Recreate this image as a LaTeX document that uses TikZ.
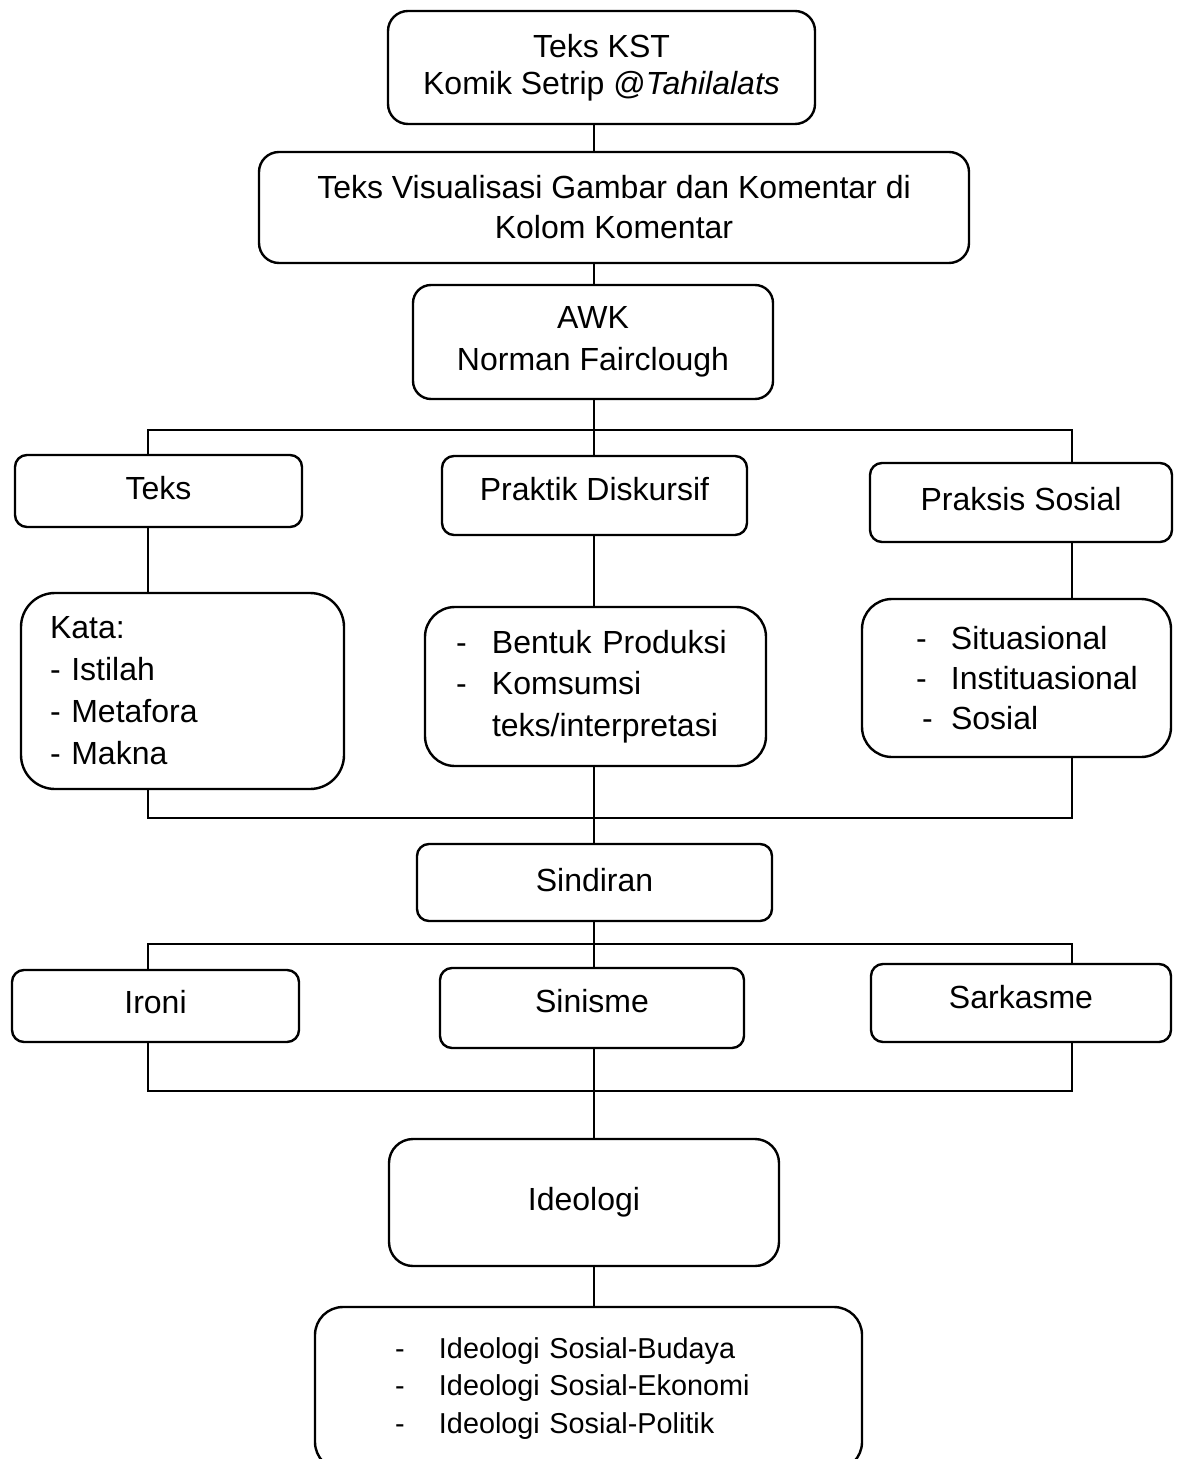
\documentclass[tikz,border=0pt]{standalone}
\usepackage{fontspec}
\setmainfont{Liberation Sans}
\tikzset{
  box/.style={draw, line width=1.2pt, rounded corners=6pt, inner sep=0pt, align=center,
    font=\fontsize{16}{20}\selectfont},
  link/.style={draw, line width=0.6pt},
}
\newcommand{\dashitem}[2]{\makebox[#1][l]{-}#2}

\begin{document}
\begin{tikzpicture}[x=0.5pt, y=-0.5pt]
    \useasboundingbox (0,0) rectangle (1179,1459);
    \clip (0,0) rectangle (1179,1459);

    % 定義欄與橫線的位置
    \coordinate (colL) at (148,0);
    \coordinate (colM) at (594,0);
    \coordinate (colR) at (1072,0);
    \coordinate (bar1) at (0,430);
    \coordinate (bar2) at (0,818);
    \coordinate (bar3) at (0,944);
    \coordinate (bar4) at (0,1091);

    % 上方的框
    \node[box, minimum width=213.5pt, minimum height=56.5pt, rounded corners=10pt,
      font=\fontsize{16}{18.5}\selectfont] (kst) at (601.5,67.5)
      {Teks KST\\Komik Setrip @\textit{Tahilalats}};
    \node[box, minimum width=355pt, minimum height=55.5pt, rounded corners=10pt] (vis) at (614,207.5)
      {Teks Visualisasi Gambar dan Komentar di\\Kolom Komentar};
    \node[box, minimum width=180pt, minimum height=57pt, rounded corners=9pt,
      font=\fontsize{16}{21}\selectfont] (awk) at (593,342)
      {AWK\\Norman Fairclough};

    % 三個層面
    \node[box, minimum width=143.5pt, minimum height=36pt, text depth=3pt] (teks) at (158.5,491) {Teks};
    \node[box, minimum width=152.5pt, minimum height=39.5pt, text depth=6.5pt] (praktik) at (594.5,495.5) {Praktik Diskursif};
    \node[box, minimum width=151pt, minimum height=39.5pt, text depth=4pt] (praksis) at (1021,502.5) {Praksis Sosial};

    % 各層面的內容
    \node[box, minimum width=161.5pt, minimum height=98pt, rounded corners=17pt,
      text width=132.5pt, align=left, font=\fontsize{16}{21}\selectfont] (kata) at (182.5,691)
      {Kata:\\- Istilah\\- Metafora\\- Makna};
    \node[box, minimum width=170.5pt, minimum height=79.5pt, rounded corners=15pt,
      text width=139.5pt, align=left, font=\fontsize{16}{20.75}\selectfont] (bentuk) at (595.5,686.5)
      {\dashitem{18pt}{Bentuk Produksi}\\\dashitem{18pt}{Komsumsi}\\\hspace*{18pt}teks/interpretasi};
    \node[box, minimum width=154.5pt, minimum height=79pt, rounded corners=15pt,
      text width=100.5pt, align=left, font=\fontsize{16}{20}\selectfont] (situ) at (1016.5,678)
      {\dashitem{17.5pt}{Situasional}\\\dashitem{17.5pt}{Instituasional}\\\hspace*{3pt}\dashitem{14.5pt}{Sosial}};

    % 中間與下方的框
    \node[box, minimum width=177.5pt, minimum height=38.5pt, text depth=2.5pt] (sindiran) at (594.5,882.5) {Sindiran};
    \node[box, minimum width=143.5pt, minimum height=36pt, text depth=4pt] (ironi) at (155.5,1006) {Ironi};
    \node[box, minimum width=152pt, minimum height=40pt, text depth=7pt] (sinisme) at (592,1008) {Sinisme};
    \node[box, minimum width=150pt, minimum height=39pt, text depth=6pt] (sarkasme) at (1021,1003) {Sarkasme};
    \node[box, minimum width=195pt, minimum height=63.5pt, rounded corners=12pt] (ideologi) at (584,1202.5) {Ideologi};
    \node[box, minimum width=273.5pt, minimum height=81.5pt, rounded corners=14pt,
      text width=193.5pt, align=left, font=\fontsize{14.4}{18.75}\selectfont] (ideolist) at (588.5,1388.5)
      {\dashitem{22pt}{Ideologi Sosial-Budaya}\\\dashitem{22pt}{Ideologi Sosial-Ekonomi}\\\dashitem{22pt}{Ideologi Sosial-Politik}};

    % 畫出連線
    \draw[link] (kst.south -| colM) -- (vis.north -| colM);
    \draw[link] (vis.south -| colM) -- (awk.north -| colM);
    \draw[link] (awk.south -| colM) -- (praktik.north -| colM);
    \draw[link] (teks.north -| colL) |- (bar1 -| colR) -- (praksis.north -| colR);
    \draw[link] (teks.south -| colL) -- (kata.north -| colL);
    \draw[link] (praktik.south -| colM) -- (bentuk.north -| colM);
    \draw[link] (praksis.south -| colR) -- (situ.north -| colR);
    \draw[link] (kata.south -| colL) |- (bar2 -| colR) -- (situ.south -| colR);
    \draw[link] (bentuk.south -| colM) -- (sindiran.north -| colM);
    \draw[link] (sindiran.south -| colM) -- (sinisme.north -| colM);
    \draw[link] (ironi.north -| colL) |- (bar3 -| colR) -- (sarkasme.north -| colR);
    \draw[link] (ironi.south -| colL) |- (bar4 -| colR) -- (sarkasme.south -| colR);
    \draw[link] (sinisme.south -| colM) -- (ideologi.north -| colM);
    \draw[link] (ideologi.south -| colM) -- (ideolist.north -| colM);
\end{tikzpicture}
\end{document}
